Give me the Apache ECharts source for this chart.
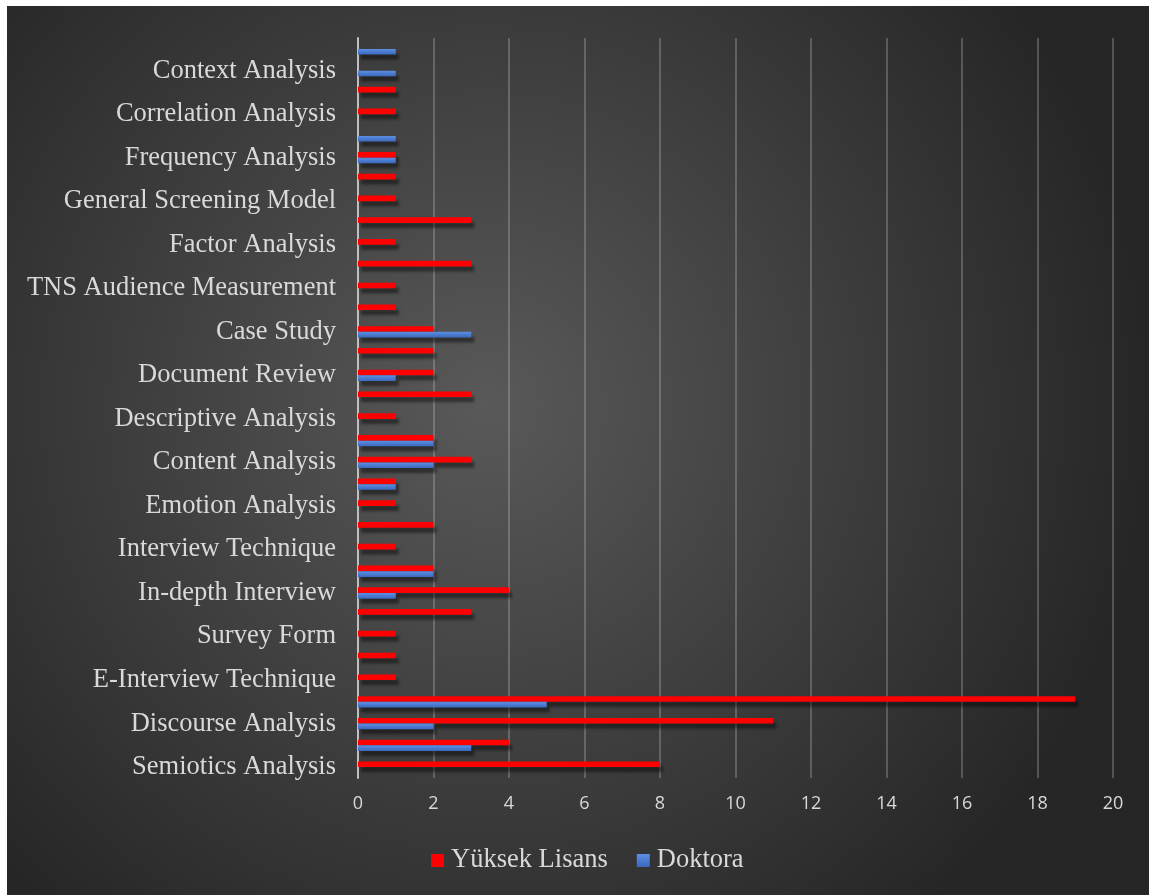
<!DOCTYPE html>
<html>
<head>
<meta charset="utf-8">
<script src="https://cdn.jsdelivr.net/npm/echarts@6/dist/echarts.min.js"></script>
<style>
html,body{margin:0;padding:0;background:#ffffff;}
#chart{position:absolute;left:7px;top:6px;width:1142px;height:889px;}
</style>
</head>
<body>
<div id="chart"></div>
<script>
// Visible labels (every other category, bottom to top)
const labeledNames = [
  "Semiotics Analysis", "Discourse Analysis", "E-Interview Technique", "Survey Form",
  "In-depth Interview", "Interview Technique", "Emotion Analysis", "Content Analysis",
  "Descriptive Analysis", "Document Review", "Case Study", "TNS Audience Measurement",
  "Factor Analysis", "General Screening Model", "Frequency Analysis", "Correlation Analysis",
  "Context Analysis"
];
// 34 categories, bottom to top; unlabeled ones between the labeled ones
const categories = [];
labeledNames.forEach(function (n) {
  categories.push(n);
  categories.push("");
});

const yuksekLisans = [8, 4, 11, 19, 1, 1, 1, 3, 4, 2, 1, 2, 1, 1, 3, 2, 1, 3, 2, 2, 2, 1, 1, 3, 1, 3, 1, 1, 1, 0, 1, 1, 0, 0];
const doktora      = [0, 3, 2, 5, 0, 0, 0, 0, 1, 2, 0, 0, 0, 1, 2, 2, 0, 0, 1, 0, 3, 0, 0, 0, 0, 0, 0, 0, 1, 1, 0, 0, 1, 1];

const xTicks = { min: 0, max: 20, interval: 2 };

const chart = echarts.init(document.getElementById('chart'));
const barShadow = {
  shadowColor: 'rgba(0,0,0,0.45)',
  shadowBlur: 3,
  shadowOffsetX: 3,
  shadowOffsetY: 5
};
chart.setOption({
  backgroundColor: {
    type: 'radial', x: 0.42, y: 0.45, r: 0.75,
    colorStops: [
      { offset: 0, color: '#595959' },
      { offset: 1, color: '#262626' }
    ]
  },
  animation: false,
  grid: { left: 351, right: 36, top: 32, bottom: 117, containLabel: false },
  legend: {
    data: ['Yüksek Lisans', 'Doktora'],
    left: 424, top: 841, padding: 0,
    itemWidth: 13, itemHeight: 13, itemGap: 29,
    icon: 'rect',
    textStyle: { color: '#d9d9d9', fontFamily: 'Liberation Serif', fontSize: 26.5, padding: [0, 0, 0, 2] }
  },
  xAxis: {
    type: 'value',
    min: xTicks.min, max: xTicks.max, interval: xTicks.interval,
    axisLine: { show: false },
    axisTick: { show: false },
    splitLine: { show: true, lineStyle: { color: 'rgba(217,217,217,0.26)', width: 2 } },
    axisLabel: { color: '#d9d9d9', fontFamily: 'Open Sans', fontSize: 18, margin: 17 }
  },
  yAxis: {
    type: 'category',
    data: categories,
    axisTick: { show: false },
    axisLine: { show: true, lineStyle: { color: '#bfbfbf', width: 2 } },
    axisLabel: { interval: 0, color: '#d9d9d9', fontFamily: 'Liberation Serif', fontSize: 26.5, margin: 22 }
  },
  series: [
    {
      name: 'Yüksek Lisans', type: 'bar', data: yuksekLisans,
      barWidth: '26%', barGap: '0%', barCategoryGap: '48%',
      itemStyle: Object.assign({ color: '#ff0000' }, barShadow)
    },
    {
      name: 'Doktora', type: 'bar', data: doktora,
      barWidth: '26%', barGap: '0%',
      itemStyle: Object.assign({
        color: {
          type: 'linear', x: 0, y: 0, x2: 0, y2: 1,
          colorStops: [
            { offset: 0, color: '#5d8fe3' },
            { offset: 1, color: '#3a68bd' }
          ]
        }
      }, barShadow)
    }
  ]
});
</script>
</body>
</html>
